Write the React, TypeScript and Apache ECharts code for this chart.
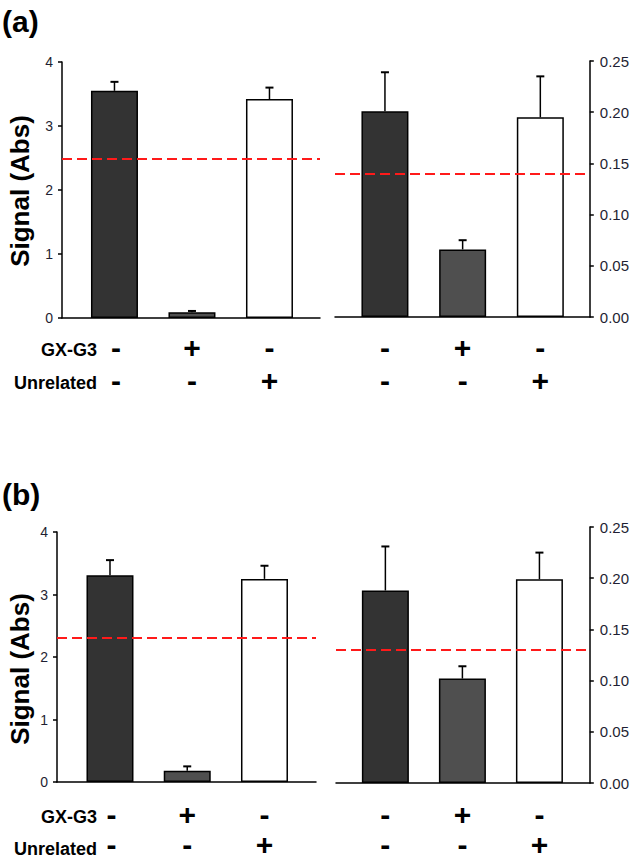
import React, { useEffect, useRef } from "react";
import * as echarts from "echarts";

// Treatment rows shown under each bar
const gxG3Signs = ["-", "+", "-"];
const unrelatedSigns = ["-", "-", "+"];
const rowNames = ["GX-G3", "Unrelated"];
const barColors = ["#333333", "#4f4f4f", "#ffffff"];

// Panel (a), left (Signal, Abs, 0-4)
const aLeftValues = [3.55, 0.09, 3.42];
const aLeftErrors = [0.14, 0.02, 0.18];
const aLeftCutoff = 2.49;
// Panel (a), right (0-0.25)
const aRightValues = [0.201, 0.066, 0.195];
const aRightErrors = [0.038, 0.009, 0.04];
const aRightCutoff = 0.14;
// Panel (b), left
const bLeftValues = [3.31, 0.18, 3.25];
const bLeftErrors = [0.24, 0.07, 0.21];
const bLeftCutoff = 2.31;
// Panel (b), right
const bRightValues = [0.188, 0.102, 0.199];
const bRightErrors = [0.043, 0.012, 0.026];
const bRightCutoff = 0.131;

const leftTicks = { min: 0, max: 4, interval: 1 };
const rightTicks = { min: 0, max: 0.25, interval: 0.05 };

const FONT = "Arial, 'Liberation Sans', Helvetica, sans-serif";
const TICK_COLOR = "#1f1f33";

type Sub = {
  values: number[];
  errors: number[];
  cutoff: number;
  side: "left" | "right";
  grid: { left: number; top: number; width: number; height: number };
  xMin: number;
  xMax: number;
};

const subs: Sub[] = [
  { values: aLeftValues, errors: aLeftErrors, cutoff: aLeftCutoff, side: "left",
    grid: { left: 62, top: 62, width: 258, height: 256 }, xMin: -0.677, xMax: 2.652 },
  { values: aRightValues, errors: aRightErrors, cutoff: aRightCutoff, side: "right",
    grid: { left: 335, top: 61, width: 255, height: 256 }, xMin: -0.643, xMax: 2.637 },
  { values: bLeftValues, errors: bLeftErrors, cutoff: bLeftCutoff, side: "left",
    grid: { left: 57, top: 532, width: 259, height: 250 }, xMin: -0.686, xMax: 2.667 },
  { values: bRightValues, errors: bRightErrors, cutoff: bRightCutoff, side: "right",
    grid: { left: 336, top: 527, width: 257, height: 256 }, xMin: -0.641, xMax: 2.654 },
];

export default function App() {
  const ref = useRef<HTMLDivElement>(null);
  useEffect(() => {
    if (!ref.current) return;
    const chart = echarts.init(ref.current, null, { renderer: "svg" });

    const grids = subs.map((s) => ({ ...s.grid, containLabel: false }));
    const xAxes = subs.map((s, i) => ({
      type: "value",
      gridIndex: i,
      min: s.xMin,
      max: s.xMax,
      position: "bottom",
      axisLine: { show: true, onZero: false, lineStyle: { color: "#000", width: 1.5 } },
      axisTick: { show: false },
      axisLabel: { show: false },
      splitLine: { show: false },
    }));
    const yAxes = subs.map((s, i) => {
      const t = s.side === "left" ? leftTicks : rightTicks;
      return {
        type: "value",
        gridIndex: i,
        min: t.min,
        max: t.max,
        interval: t.interval,
        position: s.side,
        axisLine: { show: true, onZero: false, lineStyle: { color: "#000", width: 1.5 } },
        axisTick: { show: true, inside: false, length: 4, lineStyle: { color: "#000", width: 1.5 } },
        axisLabel: {
          show: true,
          margin: s.side === "left" ? 9 : 10,
          fontFamily: FONT,
          fontSize: s.side === "left" ? 14 : 15,
          color: TICK_COLOR,
          formatter: (v: number) => (s.side === "left" ? String(v) : v.toFixed(2)),
        },
        splitLine: { show: false },
      };
    });

    const series: any[] = [];
    subs.forEach((s, i) => {
      series.push({
        type: "bar",
        xAxisIndex: i,
        yAxisIndex: i,
        barWidth: 47,
        data: s.values.map((v, k) => ({
          value: [k, v],
          itemStyle: { color: barColors[k], borderColor: "#000", borderWidth: 1.5 },
        })),
        markLine: {
          silent: true,
          symbol: "none",
          label: { show: false },
          lineStyle: { color: "#ff1a1a", type: [10, 5], width: 2 },
          data: [{ yAxis: s.cutoff }],
          z: 10,
        },
        z: 3,
      });
      series.push({
        type: "custom",
        xAxisIndex: i,
        yAxisIndex: i,
        data: s.values.map((v, k) => [k, v, v + s.errors[k]]),
        z: 2,
        renderItem: (_p: any, api: any) => {
          const x = api.value(0);
          const base = api.coord([x, api.value(1)]);
          const top = api.coord([x, api.value(2)]);
          return {
            type: "group",
            children: [
              { type: "line", shape: { x1: base[0], y1: base[1], x2: top[0], y2: top[1] },
                style: { stroke: "#000", lineWidth: 1.5 } },
              { type: "line", shape: { x1: top[0] - 4, y1: top[1], x2: top[0] + 4, y2: top[1] },
                style: { stroke: "#000", lineWidth: 2 } },
            ],
          };
        },
      });
    });

    chart.setOption({
      animation: false,
      backgroundColor: "#ffffff",
      grid: grids,
      xAxis: xAxes,
      yAxis: yAxes,
      series,
    });

    // Sign rows and labels placed through the chart's own x scales
    const rowY = [
      [347, 380],
      [814, 844],
    ];
    const graphics: any[] = [];
    subs.forEach((s, i) => {
      const panel = i < 2 ? 0 : 1;
      [gxG3Signs, unrelatedSigns].forEach((signs, r) => {
        signs.forEach((sg, k) => {
          const p = chart.convertToPixel({ gridIndex: i } as any, [k, 0]) as number[];
          graphics.push({
            type: "text",
            x: p[0] + (k === 0 && s.side === "left" ? 1.5 : 0),
            y: rowY[panel][r],
            style: {
              text: sg,
              fontFamily: FONT,
              fontWeight: "bold",
              fontSize: 30,
              fill: "#000",
              align: "center",
              verticalAlign: "middle",
            },
          });
        });
      });
    });
    [0, 1].forEach((panel) => {
      rowNames.forEach((name, r) => {
        graphics.push({
          type: "text",
          x: 97,
          y: rowY[panel][r] + 3 + (panel === 1 && r === 1 ? 2 : 0),
          style: {
            text: name,
            fontFamily: FONT,
            fontWeight: "bold",
            fontSize: 18,
            fill: "#000",
            align: "right",
            verticalAlign: "middle",
          },
        });
      });
    });
    const panelLabels = [
      { text: "(a)", y: 21, sigY: 191 },
      { text: "(b)", y: 494, sigY: 669 },
    ];
    panelLabels.forEach((pl) => {
      graphics.push({
        type: "text",
        x: 2,
        y: pl.y,
        style: {
          text: pl.text,
          fontFamily: FONT,
          fontWeight: "bold",
          fontSize: 30,
          fill: "#000",
          align: "left",
          verticalAlign: "middle",
        },
      });
      graphics.push({
        type: "text",
        x: 20,
        y: pl.sigY,
        rotation: Math.PI / 2,
        style: {
          text: "Signal (Abs)",
          fontFamily: FONT,
          fontWeight: "bold",
          fontSize: 26,
          fill: "#000",
          align: "center",
          verticalAlign: "middle",
        },
      });
    });
    chart.setOption({ graphic: graphics });

    return () => chart.dispose();
  }, []);
  return (
    <div
      ref={ref}
      style={{ position: "absolute", left: 0, top: 0, width: 632, height: 859, background: "#fff" }}
    />
  );
}
